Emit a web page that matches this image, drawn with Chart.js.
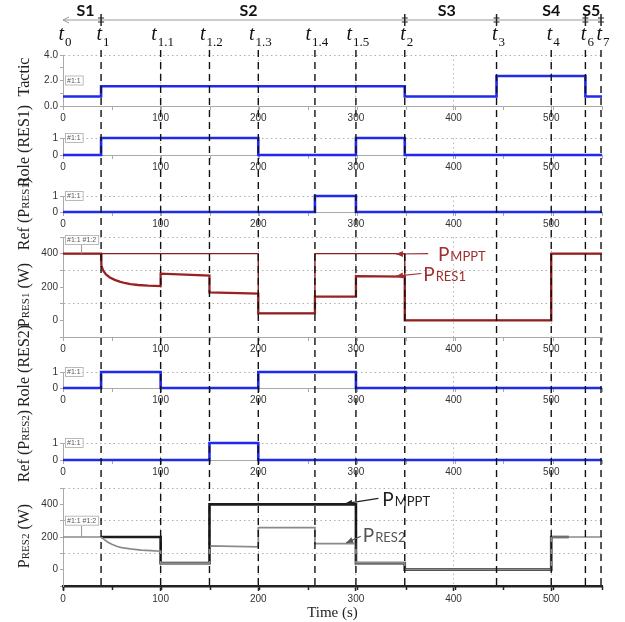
<!DOCTYPE html>
<html><head><meta charset="utf-8">
<script src="https://cdn.jsdelivr.net/npm/chart.js@4.4.0/dist/chart.umd.min.js"></script>
<style>
html,body{margin:0;padding:0;background:#fff;}
#wrap{position:relative;width:625px;height:622px;overflow:hidden;background:#fff;}
#wrap canvas{position:absolute;left:0;top:0;}
</style></head><body><div id="wrap"></div>
<script>
// ---------------- data ----------------
const xMax = 552;
const eventTimes = [0, 39, 100, 150, 200, 258, 300, 350, 444, 500, 535, 551];
const eventSubs  = ['0','1','1.1','1.2','1.3','1.4','1.5','2','3','4','6','7'];
const stageNames = ['S1','S2','S3','S4','S5'];
const stageBounds = [0, 39, 350, 444, 535, 551];
const stageLabelAt = [23, 190, 393, 500, 541];

const tacticTime  = [0, 39, 350, 444, 535, 552];
const tacticValue = [0.75, 1.55, 0.75, 2.35, 0.75, 0.75];
const role1Time  = [0, 39, 200, 300, 350, 552];
const role1Value = [0, 1, 0, 1, 0, 0];
const ref1Time  = [0, 258, 300, 552];
const ref1Value = [0, 1, 0, 0];
const role2Time  = [0, 39, 100, 200, 300, 552];
const role2Value = [0, 1, 0, 1, 0, 0];
const ref2Time  = [0, 150, 200, 552];
const ref2Value = [0, 1, 0, 0];

const pmppt1Time  = [0, 200, 200, 258, 258, 350, 350, 500, 500, 552];
const pmppt1Power = [400, 400, 42, 42, 400, 400, 0, 0, 400, 400];
const pres1Time  = [0, 39, 39.3, 41, 44, 48, 53, 58, 63, 69, 77, 87, 100, 100, 150, 150, 200, 200, 258, 258, 300, 300, 350, 350, 500, 500, 552];
const pres1Power = [400, 400, 330, 300, 275, 257, 243, 232, 224, 217, 212, 208, 205, 280, 268, 168, 160, 42, 42, 142, 142, 265, 262, 0, 0, 400, 400];
const pmppt2Time  = [39, 100, 100, 150, 150, 300, 300, 350, 350, 500, 500, 518];
const pmppt2Power = [200, 200, 40, 40, 400, 400, 40, 40, 0, 0, 200, 200];
const pres2Time  = [0, 39, 42, 46, 50, 55, 60, 69, 80, 90, 100, 100, 150, 150, 200, 200, 258, 258, 300, 300, 350, 350, 500, 500, 552];
const pres2Power = [200, 200, 185, 168, 155, 143, 135, 127, 120, 116, 113, 40, 40, 145, 140, 258, 258, 160, 160, 42, 42, 0, 0, 200, 200];

const xTickStep = 100, xMinorStep = 50;

// ---------------- helpers ----------------
const W = 625, H = 622, AXW = 63, PADR = 23, XAH = 16;
const BLUE = 'rgb(32,42,236)';
const SERIF = 'Liberation Serif', SANS = 'Liberation Sans';
function pts(ts, vs){ return ts.map((t,i)=>({x:t, y:vs[i]})); }
function seg(ctx,x1,y1,x2,y2){ ctx.beginPath(); ctx.moveTo(x1,y1); ctx.lineTo(x2,y2); ctx.stroke(); }

function drawRich(ctx, parts, family){
  let w = 0;
  parts.forEach(p=>{ ctx.font = p[1]+'px "'+family+'"'; w += ctx.measureText(p[0]).width; });
  let x = -w/2;
  parts.forEach(p=>{ ctx.font = p[1]+'px "'+family+'"'; ctx.fillText(p[0], x, 0); x += ctx.measureText(p[0]).width; });
}
function drawTitle(chart, p){
  const ctx = chart.ctx;
  ctx.save(); ctx.translate(24, p.titleY); ctx.rotate(-Math.PI/2);
  ctx.fillStyle = '#222'; ctx.textBaseline = 'alphabetic'; ctx.textAlign = 'left';
  ctx.translate(0, 5);
  drawRich(ctx, p.title, SERIF);
  ctx.restore();
}
function drawTag(chart, tag){
  const ctx = chart.ctx, ys = chart.scales.y, xs = chart.scales.x;
  const y = ys.getPixelForValue(tag.y), x = chart.chartArea.left + 2;
  ctx.save();
  ctx.font = '7px "'+SANS+'"';
  const w = ctx.measureText(tag.text).width + 4;
  if (tag.lineTo !== undefined){
    ctx.strokeStyle = '#999'; ctx.lineWidth = 1;
    const lx = xs.getPixelForValue(19);
    seg(ctx, lx, y+5, lx, ys.getPixelForValue(tag.lineTo));
  }
  ctx.fillStyle = 'rgba(255,255,255,0.9)'; ctx.fillRect(x, y-5, w, 10);
  ctx.strokeStyle = '#aaa'; ctx.lineWidth = 0.8; ctx.strokeRect(x+0.5, y-4.5, w, 9);
  ctx.fillStyle = '#555'; ctx.textBaseline = 'middle'; ctx.fillText(tag.text, x+2, y+0.5);
  ctx.restore();
}
function drawAnno(chart, a){
  const ctx = chart.ctx, xs = chart.scales.x, ys = chart.scales.y;
  const tx = xs.getPixelForValue(a.tx), ty = ys.getPixelForValue(a.ty);
  ctx.save();
  ctx.fillStyle = a.color; ctx.textAlign = 'left'; ctx.textBaseline = 'alphabetic';
  ctx.font = '19px Lato';
  ctx.fillText('P', tx, ty+7);
  const pw = ctx.measureText('P').width;
  ctx.font = '13px Lato';
  ctx.fillText(a.sub, tx+pw+1, ty+7);
  const x1 = xs.getPixelForValue(a.tail[0]), y1 = ys.getPixelForValue(a.tail[1]);
  const x2 = xs.getPixelForValue(a.tip[0]),  y2 = ys.getPixelForValue(a.tip[1]);
  ctx.strokeStyle = a.color; ctx.lineWidth = 1.2;
  seg(ctx, x1, y1, x2, y2);
  const ang = Math.atan2(y2-y1, x2-x1), L = 7, Wd = 3;
  ctx.beginPath();
  ctx.moveTo(x2, y2);
  ctx.lineTo(x2 - L*Math.cos(ang) + Wd*Math.sin(ang), y2 - L*Math.sin(ang) - Wd*Math.cos(ang));
  ctx.lineTo(x2 - L*Math.cos(ang) - Wd*Math.sin(ang), y2 - L*Math.sin(ang) + Wd*Math.cos(ang));
  ctx.closePath(); ctx.fill();
  ctx.restore();
}
function drawHeader(chart){
  const ctx = chart.ctx, xs = chart.scales.x;
  ctx.save();
  ctx.font = 'bold 16px Lato'; ctx.fillStyle = '#111'; ctx.textAlign = 'center'; ctx.textBaseline = 'middle';
  stageNames.forEach((n,i)=>ctx.fillText(n, xs.getPixelForValue(stageLabelAt[i]), 11));
  const y = 20;
  const x0 = xs.getPixelForValue(stageBounds[0]), x1 = xs.getPixelForValue(stageBounds[stageBounds.length-1]);
  ctx.strokeStyle = '#999'; ctx.lineWidth = 1;
  seg(ctx, x0, y, x1, y);
  ctx.beginPath(); ctx.moveTo(x0+6, y-3); ctx.lineTo(x0, y); ctx.lineTo(x0+6, y+3); ctx.stroke();
  ctx.strokeStyle = '#222'; ctx.lineWidth = 1.5;
  stageBounds.slice(1).forEach(b=>{
    const x = xs.getPixelForValue(b);
    seg(ctx, x, y-6, x, y+6);
    ctx.lineWidth = 1;
    seg(ctx, x-3, y-2, x+3, y-2); seg(ctx, x-3, y+2, x+3, y+2);
    ctx.lineWidth = 1.5;
  });
  ctx.textAlign = 'left'; ctx.textBaseline = 'alphabetic'; ctx.fillStyle = '#111';
  eventTimes.forEach((t,i)=>{
    ctx.font = 'italic 20px "'+SERIF+'"';
    const tw = ctx.measureText('t').width;
    ctx.font = '13px "'+SERIF+'"';
    const sw = ctx.measureText(eventSubs[i]).width;
    const cx = xs.getPixelForValue(t) + 2;
    const left = cx - (tw + 1 + sw)/2;
    ctx.font = 'italic 20px "'+SERIF+'"';
    ctx.fillText('t', left, 40);
    ctx.font = '13px "'+SERIF+'"';
    ctx.fillText(eventSubs[i], left + tw + 1, 46);
  });
  ctx.restore();
}
function drawEvents(chart){
  const ctx = chart.ctx, xs = chart.scales.x;
  ctx.save();
  ctx.setLineDash([7,5]); ctx.strokeStyle = '#111'; ctx.lineWidth = 1.4;
  eventTimes.slice(1).forEach(t=>{
    const x = xs.getPixelForValue(t);
    seg(ctx, x, 50, x, chart.chartArea.bottom);
  });
  ctx.setLineDash([]);
  ctx.fillStyle = '#222'; ctx.font = '15px "'+SERIF+'"'; ctx.textAlign = 'center'; ctx.textBaseline = 'alphabetic';
  ctx.fillText('Time (s)', (chart.chartArea.left + chart.chartArea.right)/2, 617);
  ctx.restore();
}

function stepDS(ts, vs){
  return {data: pts(ts, vs), stepped: true, borderColor: BLUE, borderWidth: 2.6, pointRadius: 0, clip: false, xAxisID: 'x'};
}
const roleLab = v => String(v);
const roleGrid = v => v === 1;
const powLab = v => (v >= 0 && v % 200 === 0) ? String(v) : '';
const powGrid = v => v === 100 || v === 300 || v === 500;

const panels = [
  {top:55, bottom:106, min:0, max:4, step:1, lab:v=> v%2===0 ? v.toFixed(1) : '', grid:v=>v===4,
   title:[['Tactic',16]], titleY:77, tag:{y:2, text:'#1:1'}, header:true,
   datasets:[stepDS(tacticTime, tacticValue)]},
  {top:138, bottom:155, min:0, max:1, step:1, lab:roleLab, grid:roleGrid,
   title:[['Role (RES1)',16]], titleY:146, tag:{y:1, text:'#1:1'},
   datasets:[stepDS(role1Time, role1Value)]},
  {top:196, bottom:212, min:0, max:1, step:1, lab:roleLab, grid:roleGrid,
   title:[['Ref (',16],['P',16],['RES1',11],[')',16]], titleY:214, tag:{y:1, text:'#1:1'},
   datasets:[stepDS(ref1Time, ref1Value)]},
  {top:237, bottom:337, min:-100, max:500, step:100, lab:powLab, grid:powGrid,
   title:[['P',16],['RES1',11],[' (W)',16]], titleY:295, tag:{y:482, text:'#1:1 #1:2', lineTo:400},
   datasets:[
     {data: pts(pmppt1Time, pmppt1Power), borderColor:'#8c1f1f', borderWidth:1.4, pointRadius:0, clip:false, xAxisID:'x'},
     {data: pts(pres1Time, pres1Power), borderColor:'#9a2222', borderWidth:2.3, pointRadius:0, clip:false, xAxisID:'x'}
   ],
   annos:[
     {sub:'MPPT', tx:384, ty:400, tail:[374,400], tip:[341,398], color:'#a0302e'},
     {sub:'RES1', tx:369, ty:281, tail:[367,281], tip:[341,265], color:'#a0302e'}
   ]},
  {top:372, bottom:388, min:0, max:1, step:1, lab:roleLab, grid:roleGrid,
   title:[['Role (RES2)',16]], titleY:366, tag:{y:1, text:'#1:1'},
   datasets:[stepDS(role2Time, role2Value)]},
  {top:443, bottom:460, min:0, max:1, step:1, lab:roleLab, grid:roleGrid,
   title:[['Ref (',16],['P',16],['RES2',11],[')',16]], titleY:446, tag:{y:1, text:'#1:1'},
   datasets:[stepDS(ref2Time, ref2Value)]},
  {top:488, bottom:586, min:-100, max:500, step:100, lab:powLab, grid:powGrid,
   title:[['P',16],['RES2',11],[' (W)',16]], titleY:536, tag:{y:300, text:'#1:1 #1:2', lineTo:200},
   bottomAxis:true, events:true,
   datasets:[
     {data: pts(pres2Time, pres2Power), borderColor:'#8a8a8a', borderWidth:1.7, pointRadius:0, clip:false, xAxisID:'x'},
     {data: pts(pmppt2Time, pmppt2Power), borderColor:'#1c1c1c', borderWidth:2.6, pointRadius:0, clip:false, xAxisID:'x'}
   ],
   annos:[
     {sub:'MPPT', tx:327, ty:433, tail:[323,436], tip:[289,404], color:'#222'},
     {sub:'RES2', tx:307, ty:212, tail:[305,205], tip:[290,164], color:'#555'}
   ]}
];

Chart.defaults.animation = false;
Chart.defaults.font.family = SANS;

panels.forEach((p, idx)=>{
  const cv = document.createElement('canvas');
  cv.width = W; cv.height = H; cv.style.width = W+'px'; cv.style.height = H+'px';
  document.getElementById('wrap').appendChild(cv);
  const deco = {
    id: 'deco'+idx,
    afterDraw(chart){
      drawTitle(chart, p);
      if (p.tag) drawTag(chart, p.tag);
      if (p.annos) p.annos.forEach(a=>drawAnno(chart, a));
      if (p.header) drawHeader(chart);
      if (p.events) drawEvents(chart);
    }
  };
  new Chart(cv, {
    type: 'line',
    data: { datasets: p.datasets },
    options: {
      responsive: false, animation: false, devicePixelRatio: 1,
      layout: { padding: { left: 0, right: PADR, top: p.top, bottom: H - p.bottom - XAH } },
      plugins: { legend: {display:false}, tooltip: {enabled:false} },
      elements: { line: { tension: 0 } },
      scales: {
        x: {
          type: 'linear', min: 0, max: xMax, position: 'bottom', weight: 0,
          afterFit: s => { s.height = XAH; },
          ticks: { stepSize: xTickStep, includeBounds: false, maxRotation: 0, minRotation: 0, padding: 2,
                   color: '#333', font: {family: SANS, size: 10} },
          grid: { color: c => (c.tick && c.tick.value > 0) ? '#b8b8b8' : 'rgba(0,0,0,0)',
                  lineWidth: 1, tickLength: p.bottomAxis ? 5 : 4,
                  tickColor: p.bottomAxis ? '#222' : '#aaa',
                  tickWidth: p.bottomAxis ? 1.5 : 1 },
          border: { display: true, color: p.bottomAxis ? '#222' : '#aaa', width: p.bottomAxis ? 2.5 : 1, dash: [1.5, 3] }
        },
        xMinor: {
          type: 'linear', axis: 'x', min: 0, max: xMax, position: 'bottom', weight: -1,
          afterFit: s => { s.height = 0; },
          ticks: { display: false, stepSize: xMinorStep, includeBounds: false },
          grid: { drawOnChartArea: false, drawTicks: true, tickLength: 4,
                  tickColor: p.bottomAxis ? '#222' : '#aaa', tickWidth: p.bottomAxis ? 1.5 : 1 },
          border: { display: false }
        },
        y: {
          type: 'linear', min: p.min, max: p.max,
          afterFit: s => { s.width = AXW; },
          ticks: { stepSize: p.step, autoSkip: false, padding: 2, color: '#333', font: {family: SANS, size: 10},
                   callback: v => p.lab(v) },
          grid: { color: c => (c.tick && p.grid(c.tick.value)) ? '#b0b0b0' : 'rgba(0,0,0,0)', lineWidth: 1,
                  tickLength: 3, tickColor: '#aaa' },
          border: { display: true, color: '#aaa', width: 1, dash: [1.5, 3] }
        }
      }
    },
    plugins: [deco]
  });
});
</script></body></html>
